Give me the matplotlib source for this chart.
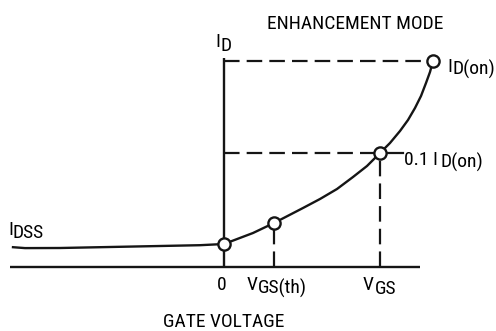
# Enhancement mode MOSFET transfer sketch
import matplotlib
matplotlib.use('Agg')
import matplotlib.pyplot as plt

# condensed sans, close to the narrow Helvetica of the reference
plt.rcParams['font.family'] = ['Roboto Condensed', 'Liberation Sans', 'DejaVu Sans']

# Data (drawing units: gate voltage right of 0, drain current above axis)
vgs_curve = [-211, -199, -164, -124, -74, -24, 0, 29, 50, 79, 96, 113, 129, 143,
             156, 166, 176, 184, 191, 197, 202, 206, 209]
id_curve = [19.8, 18.9, 19.0, 19.8, 20.8, 21.8, 23, 34, 44, 59, 68, 78, 90, 101,
            114, 124, 136, 147, 159, 171, 184, 195, 206]

# marked points: origin, VGS(th), VGS at 0.1 ID(on), ID(on)
pt_vgs = [0, 50, 156, 209]
pt_id = [23, 44, 114, 206]

id_on = 206
id_tenth = 114
vgs_th = 50
vgs_op = 156
axis_left = -214
axis_right = 196
axis_top = 209

ink = '#151515'

fig = plt.figure(figsize=(4.96, 3.31), dpi=100)
ax = fig.add_axes([0, 0, 1, 1])
ax.set_xlim(-224, 272)
ax.set_ylim(-64, 267)
ax.axis('off')

# axes lines
ax.plot([axis_left, axis_right], [0, 0], color=ink, lw=1.7, solid_capstyle='butt')
ax.plot([0, 0], [0, axis_top], color=ink, lw=1.7, solid_capstyle='butt')

# dashed guide lines
dash = dict(color=ink, lw=1.6, dashes=(7, 3.2))
ax.plot([0, pt_vgs[3]], [id_on, id_on], **dash)
ax.plot([0, vgs_op], [id_tenth, id_tenth], **dash)
ax.plot([vgs_op, vgs_op], [0, id_tenth], **dash)
ax.plot([vgs_th, vgs_th], [0, pt_id[1]], **dash)
ax.plot([vgs_op, 179], [id_tenth, id_tenth], color=ink, lw=1.6)

# transfer curve
ax.plot(vgs_curve, id_curve, color=ink, lw=1.7)
ax.plot(pt_vgs, pt_id, 'o', ms=8.8, mfc='white', mec=ink, mew=1.7, zorder=5)

# labels (subscripts kept full size and dropped, as in the sketch)
fs = 14
ax.text(131, 238, 'ENHANCEMENT MODE', fontsize=fs, ha='center', va='baseline')
ax.text(-9, 220, 'I', fontsize=fs, va='baseline')
ax.text(-4, 216, 'D', fontsize=fs, va='baseline')
ax.text(223, 195, 'I', fontsize=fs, va='baseline')
ax.text(228, 192, 'D(on)', fontsize=fs, va='baseline')
ax.text(180, 102, '0.1 I', fontsize=fs, va='baseline')
ax.text(216, 99, 'D(on)', fontsize=fs, va='baseline')
ax.text(-216, 32, 'I', fontsize=fs, va='baseline')
ax.text(-211, 29, 'DSS', fontsize=fs, va='baseline')
ax.text(-2, -23, '0', fontsize=fs, ha='center', va='baseline')
ax.text(23, -23, 'V', fontsize=fs, va='baseline')
ax.text(34, -27, 'GS(th)', fontsize=fs, va='baseline')
ax.text(139, -23, 'V', fontsize=fs, va='baseline')
ax.text(151, -27, 'GS', fontsize=fs, va='baseline')
ax.text(0, -60, 'GATE VOLTAGE', fontsize=fs, ha='center', va='baseline')

plt.savefig('out.png', dpi=100)
